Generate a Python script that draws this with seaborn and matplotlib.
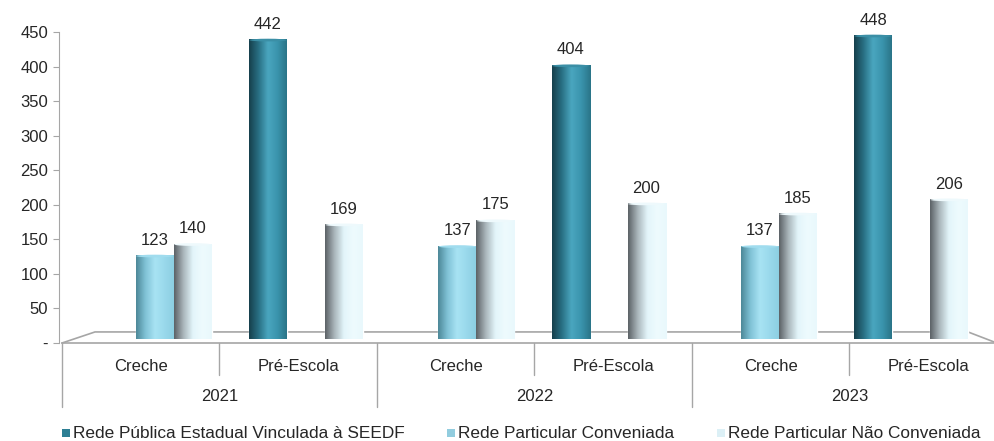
"""Matrículas na educação infantil por rede, 2021-2023"""
import numpy as np
import pandas as pd
import matplotlib
matplotlib.use('Agg')
import matplotlib.pyplot as plt
import seaborn as sns
from matplotlib.colors import LinearSegmentedColormap, to_hex
from matplotlib.patches import Rectangle, Ellipse

# Dados
anos = ['2021', '2022', '2023']
etapas = ['Creche', 'Pré-Escola']
redes = ['Rede Pública Estadual Vinculada à SEEDF',
         'Rede Particular Conveniada',
         'Rede Particular Não Conveniada']

# uma entrada por (ano, etapa); None = sem barra
publica = [None, 442, None, 404, None, 448]
conveniada = [123, None, 137, None, 137, None]
nao_conveniada = [140, 169, 175, 200, 185, 206]

grupos = [f'{a} {e}' for a in anos for e in etapas]
rows = []
for rede, vals in zip(redes, [publica, conveniada, nao_conveniada]):
    for g, v in zip(grupos, vals):
        if v is not None:
            rows.append({'grupo': g, 'rede': rede, 'valor': v})
df = pd.DataFrame(rows)

# Cores (legenda) e gradientes cilíndricos
cores = ['#2d7f94', '#92cddf', '#dcf0f6']
gradientes = [
    ['#163f4b', '#286f83', '#4aa6bf', '#3a94ad', '#2a7487'],
    ['#4c8797', '#80c2d6', '#a8e3f3', '#9ad9ec', '#8ccfe2'],
    ['#5b6165', '#aab6bb', '#e3f5fa', '#eefbfe', '#e9f8fc'],
]
topos = ['#3b8fa6', '#a0dcee', '#eef9fc']

sns.set_style('white')
plt.rcParams['font.family'] = ['Liberation Sans', 'DejaVu Sans']
FS = 12

W, H = 995, 441
fig = plt.figure(figsize=(W / 100, H / 100), dpi=100)
pos = [62 / W, 1 - 343 / H, 933 / W, 311 / H]
ax = fig.add_axes(pos)                 # eixo de valores (ticks, chão)
axb = fig.add_axes(pos, zorder=2)      # plano das barras (profundidade 3D)
axb.patch.set_alpha(0)

# escala do plano das barras, em pixels
c0, passo = 154.8, 151.25
base, esc = 339.3, 0.677
bx0, bx1 = (62 - c0) / passo, (995 - c0) / passo
by0 = -(343 - base) / esc
by1 = by0 + 311 / esc

sns.barplot(data=df, x='grupo', y='valor', hue='rede', order=grupos,
            hue_order=redes, palette=dict(zip(redes, cores)),
            width=3 * 38 / passo, saturation=1, errorbar=None, legend=False,
            ax=axb, zorder=3)

grad = np.linspace(0, 1, 256)[None, :]
for cont in axb.containers:
    k = cores.index(to_hex(cont.patches[0].get_facecolor()))
    cmap = LinearSegmentedColormap.from_list(f'g{k}', gradientes[k])
    for p in cont.patches:
        x0, w, h = p.get_x(), p.get_width(), p.get_height()
        axb.imshow(grad, cmap=cmap, extent=[x0, x0 + w, 0, h], aspect='auto',
                   interpolation='bicubic', zorder=3.5)
        axb.add_patch(Ellipse((x0 + w / 2, h), w * 0.98, 4, facecolor=topos[k],
                              edgecolor='none', zorder=3.6))
    axb.bar_label(cont, fmt='%d', padding=6, fontsize=FS, zorder=5)

axb.set_xlim(bx0, bx1)
axb.set_ylim(by0, by1)
axb.axis('off')

# eixo de valores
cinza = '#a6a6a6'
ax.set_xlim(62, 995)
ax.set_ylim(0, 450)
ax.set_xticks([])
ax.set_yticks(range(0, 451, 50))
ax.set_yticklabels(['-'] + [str(v) for v in range(50, 451, 50)])
ax.tick_params(axis='y', left=True, direction='out', length=4, color=cinza,
               labelsize=FS, pad=4)
for s in ['top', 'right']:
    ax.spines[s].set_visible(False)
ax.spines['left'].set_color(cinza)
ax.spines['bottom'].set_color(cinza)
ax.spines['bottom'].set_linewidth(1.2)
ax.spines['left'].set_position(('outward', 2))

# chão "3D" (coordenadas em pixels no eixo x)
ax.plot([62, 95, 968, 995], [0, 16, 16, 1], color=cinza, lw=1.2,
        zorder=1, clip_on=False)

# eixo x em dois níveis
larg = 157.5
tr = ax.get_xaxis_transform()
for i in range(7):
    x = 62 + larg * i
    y1 = -0.206 if i % 2 == 0 else -0.103
    ax.plot([x, x], [0, y1], transform=tr, color=cinza, lw=1, clip_on=False)
for i, g in enumerate(grupos):
    ax.text(62 + larg * (i + 0.5), -0.077, g.split(' ', 1)[1], transform=tr,
            ha='center', va='center', fontsize=FS)
for j, a in enumerate(anos):
    ax.text(62 + larg * (2 * j + 1), -0.172, a, transform=tr, ha='center',
            va='center', fontsize=FS)

# legenda
leg_x = [62, 447, 717]
for xq, c, r in zip(leg_x, cores, redes):
    fig.add_artist(Rectangle((xq / W, 1 - 437 / H), 8 / W, 8 / H,
                             transform=fig.transFigure, facecolor=c,
                             edgecolor='none'))
    fig.text((xq + 11) / W, 1 - 433 / H, r, ha='left', va='center',
             fontsize=12.4)

plt.savefig('out.png', dpi=100)
